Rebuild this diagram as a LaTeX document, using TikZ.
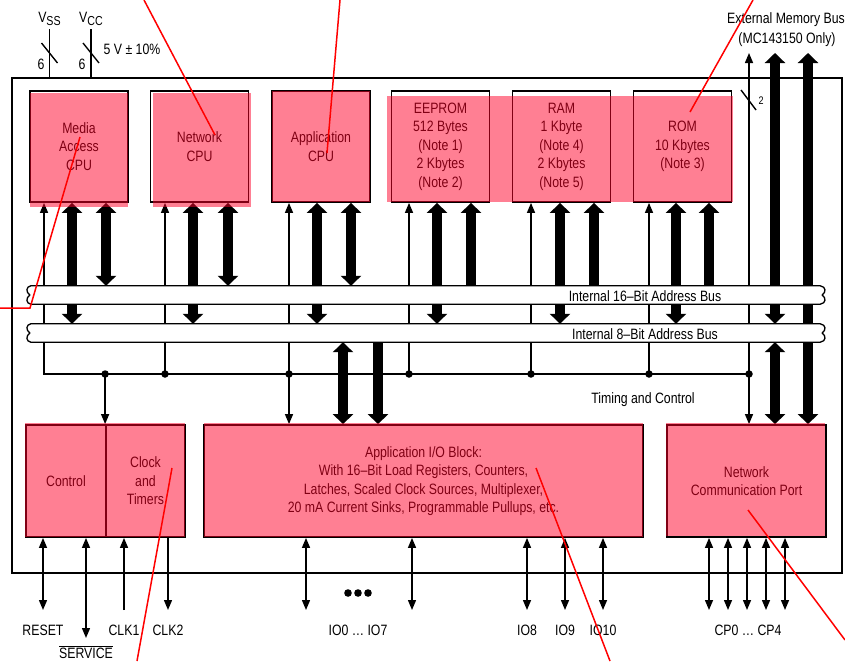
\documentclass[tikz,border=0pt]{standalone}
\usepackage{fontspec}
\setmainfont{Liberation Sans}[FakeStretch=0.82]
\usetikzlibrary{arrows.meta}
\definecolor{hilite}{RGB}{255,0,40}

\begin{document}
\begin{tikzpicture}[x=1pt,y=-1pt,font=\fontsize{15}{18.5}\selectfont,
  blk/.style={draw,line width=1.8pt,inner sep=0pt,align=center},
  unit/.style={blk,minimum width=98pt,minimum height=111pt},
  lower/.style={blk,minimum height=112pt},
  busband/.style={minimum width=789pt,minimum height=18pt,inner sep=0pt},
  sig/.style={line width=1.4pt,>={Triangle[length=10pt,width=8pt]}},
  thk/.style={line width=10pt,>={Triangle[length=10pt,width=20pt]}},
  dot/.style={circle,fill,inner sep=0pt,minimum size=7.5pt},
  hl/.style={fill=hilite,fill opacity=0.5},
  note/.style={draw=red,line width=1.5pt}]
  \useasboundingbox (0,0) rectangle (845,661);
  \node[draw,line width=1.5pt,minimum width=830pt,minimum height=495pt] (chip) at (427,325.5) {};

  % processors and memories
  \node[unit] (mac) at (79,146.5) {Media\\Access\\CPU};
  \node[unit] (ncpu) at (199.5,146.5) {Network\\CPU};
  \node[unit] (acpu) at (321,146.5) {Application\\CPU};
  \node[unit] (eeprom) at (440.5,146.5) {EEPROM\\512 Bytes\\(Note 1)\\2 Kbytes\\(Note 2)};
  \node[unit] (ram) at (561.5,146.5) {RAM\\1 Kbyte\\(Note 4)\\2 Kbytes\\(Note 5)};
  \node[unit] (rom) at (682.5,146.5) {ROM\\10 Kbytes\\(Note 3)};

  % lower row
  \node[lower,minimum width=80pt] (ctl) at (66,481) {Control};
  \node[lower,minimum width=79pt] (clk) at (145.5,481) {Clock\\and\\Timers};
  \node[lower,minimum width=439pt] (aio) at (423.5,481) {Application I/O Block:\\With 16–Bit Load Registers, Counters,\\Latches, Scaled Clock Sources, Multiplexer,\\20 mA Current Sinks, Programmable Pullups, etc.};
  \node[lower,minimum width=159pt] (ncp) at (746.5,481) {Network\\Communication Port};

  \node[busband] (b16) at (425.5,295) {};
  \node[busband] (b8) at (425.5,333) {};
  \coordinate (tl) at (44,374);
  \coordinate (tr) at (749,374);
  \coordinate (ext) at (0,53);
  \coordinate (pinend) at (0,610);
  \coordinate (svcend) at (86,638);

  % timing and control
  \draw[sig,<-] (mac.south -| tl) |- (tr);
  \foreach \b/\x in {ncpu/165,acpu/289,eeprom/409,ram/531,rom/649}
    \draw[sig,<-] (\b.south -| \x,0) -- (tl -| \x,0) node[dot] {};
  \draw[sig,<->] (ext -| tr) -- (ncp.north -| tr);
  \node[dot] at (tr) {};
  \draw[sig,->] (tl -| clk.north west) node[dot] {} -- (clk.north west);
  \draw[sig,->] (tl -| 289,0) -- (aio.north -| 289,0);
  \draw[sig] (tr |- 0,100) +(-8,-10) -- +(7,10);
  \node at (761,101) {\fontsize{11}{11}\selectfont 2};

  % data paths
  \foreach \b/\x/\y in {mac/72/106,ncpu/193/228,acpu/317/351}{
    \draw[thk,<->] (\b.south -| \x,0) -- (b8.north -| \x,0);
    \draw[thk,<->] (\b.south -| \y,0) -- (b16.north -| \y,0);}
  \foreach \b/\x/\y in {eeprom/437/471,ram/560/594,rom/676/709}{
    \draw[thk,<->] (\b.south -| \x,0) -- (b8.north -| \x,0);
    \draw[thk,<-] (\b.south -| \y,0) -- (b16.north -| \y,0);}
  \draw[thk,<->] (ext -| 775,0) -- (b8.north -| 775,0);
  \draw[thk,<->] (b8.south -| 775,0) -- (ncp.north -| 775,0);
  \draw[thk,<->] (ext -| 808,0) -- (ncp.north -| 808,0);
  \draw[thk,<->] (b8.south -| 343,0) -- (aio.north -| 343,0);
  \draw[thk,->] (b8.south -| 378,0) -- (aio.north -| 378,0);

  % internal buses
  \foreach \b in {b16,b8}
    \draw[line width=1.3pt,fill=white] (\b.north west) -- (\b.north east)
      .. controls +(6,1) and +(4,-3) .. ([xshift=2pt]\b.east)
      .. controls +(4,3) and +(6,-1) .. (\b.south east) -- (\b.south west)
      .. controls +(-5,-1) and +(-4,3) .. ([xshift=-1pt]\b.west)
      .. controls +(-4,-3) and +(-5,1) .. (\b.north west) -- cycle;
  \node at (645,296) {Internal 16–Bit Address Bus};
  \node at (645,334.5) {Internal 8–Bit Address Bus};
  \node at (643,400) {Timing and Control};

  % pins
  \draw[sig,<->] (ctl.south -| 43,0) -- (pinend -| 43,0);
  \draw[sig,<->] (ctl.south -| svcend) -- (svcend);
  \draw[sig,->] (pinend -| 124,0) -- (clk.south -| 124,0);
  \draw[sig,->] (clk.south -| 168,0) -- (pinend -| 168,0);
  \foreach \x in {306,412,527,565,603}
    \draw[sig,<->] (aio.south -| \x,0) -- (pinend -| \x,0);
  \foreach \x in {709,728,747,766,785}
    \draw[sig,<->] (ncp.south -| \x,0) -- (pinend -| \x,0);
  \foreach \x in {348,358,368} \fill (\x,593) circle (3.8pt);
  \node at (43,630) {RESET};
  \node at (86,652) {$\overline{\hbox{SERVICE}}$};
  \node at (124,630) {CLK1};
  \node at (168,630) {CLK2};
  \node at (358,630) {IO0 … IO7};
  \node at (527,630) {IO8};
  \node at (565,630) {IO9};
  \node at (603,630) {IO10};
  \node at (748,630) {CP0 … CP4};

  % supplies and external bus
  \node (vss) at (49.5,19) {V\raisebox{-2.5pt}{\fontsize{13}{13}\selectfont SS}};
  \node (vcc) at (91,19) {V\raisebox{-2.5pt}{\fontsize{13}{13}\selectfont CC}};
  \draw[sig] (vss) -- (vss |- chip.north);
  \draw[sig] (vcc) -- (vcc |- chip.north);
  \draw[sig] (vss |- 0,53) +(-8,-10) -- +(8,10);
  \draw[sig] (vcc |- 0,53) +(-8,-10) -- +(8,10);
  \node at (41,64) {6};
  \node at (82,64) {6};
  \node at (132,49) {5 V ± 10\%};
  \node at (786,20) {External Memory Bus};
  \node at (787,40) {(MC143150 Only)};

  % highlights
  \foreach \a/\b/\c/\d in {30/93/128/207,153/93/251/207,272/91/370/202,387/96/733/202,25/423/185/537,204/423/643/537,666/423/825/536}
    \fill[hl] (\a,\b) rectangle (\c,\d);
  \draw[note] ([shift={(15.5,-11.5)}]ncpu.center) -- (144,0);
  \draw[note] ([shift={(6,6.5)}]acpu.center) -- (340,0);
  \draw[note] ([shift={(7.5,-34.5)}]rom.center) -- (753,0);
  \draw[note] ([shift={(1,-9.5)}]mac.center) -- (30,308) -- (0,308);
  \draw[note] ([shift={(26.5,-13)}]clk.center) -- (137,661);
  \draw[note] ([shift={(112.5,-13)}]aio.center) -- (610,661);
  \draw[note] ([shift={(1.5,29)}]ncp.center) -- (845,640);
\end{tikzpicture}
\end{document}
